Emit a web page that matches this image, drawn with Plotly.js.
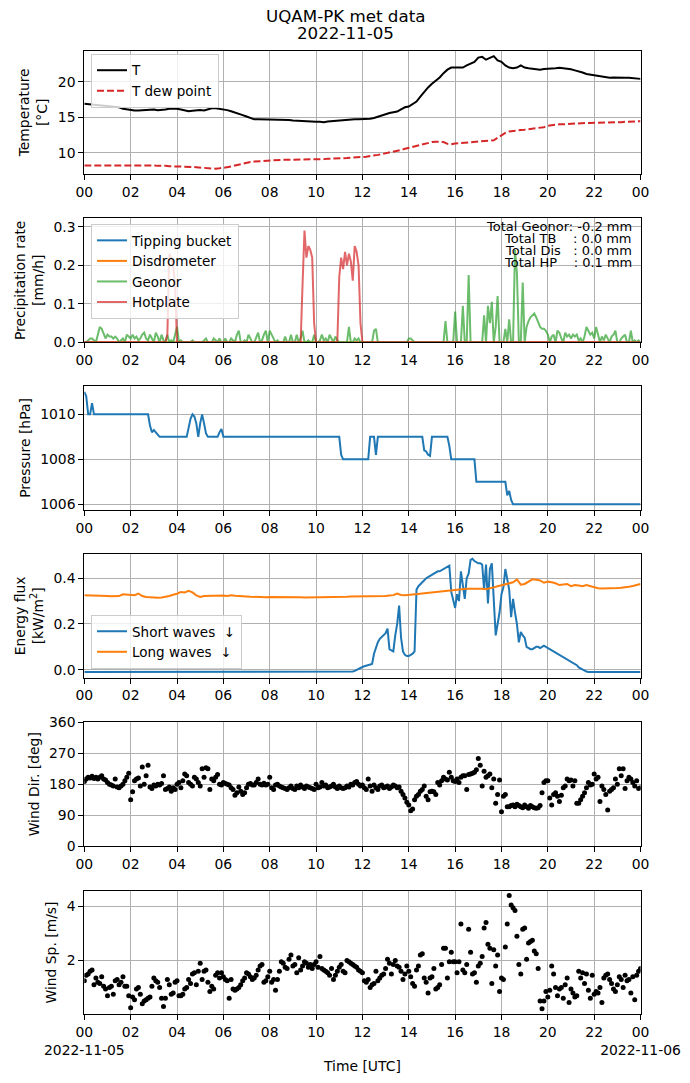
<!DOCTYPE html>
<html>
<head>
<meta charset="utf-8">
<script src="https://cdn.plot.ly/plotly-3.0.1.min.js"></script>
<style>
  body { margin: 0; background: #ffffff; }
  #chart { width: 690px; height: 1083px; }
</style>
</head>
<body>
<div id="chart"></div>
<script>
// UQAM-PK met data, 2022-11-05 -- six stacked panels

// sampling clocks (hours UTC from 2022-11-05 00:00)
const hours5 = Array.from({ length: 289 }, (_, i) => i / 12);   // 5-min records
const hours10 = Array.from({ length: 145 }, (_, i) => i / 6);   // 10-min records

const tickHours = [0, 2, 4, 6, 8, 10, 12, 14, 16, 18, 20, 22, 24];
const tickLabels = ['00', '02', '04', '06', '08', '10', '12', '14', '16', '18', '20', '22', '00'];
const bottomTickLabels = ['00<br>2022-11-05', '02', '04', '06', '08', '10', '12', '14', '16', '18', '20', '22', '00<br>2022-11-06'];
const titleLines = ['UQAM-PK met data', '2022-11-05'];

// Temperature [°C], 10-min
const airTemp = [
    16.9, 16.85, 16.8, 16.7, 16.6, 16.6,
    16.6, 16.55, 16.5, 16.4, 16.2, 16.1,
    16.0, 15.95, 15.95, 16.0, 16.1, 16.05,
    16.1, 16.0, 16.0, 16.1, 16.2, 16.25,
    16.2, 16.1, 16.0, 15.85, 15.9, 16.0,
    16.0, 15.95, 16.1, 16.25, 16.25, 16.2,
    16.1, 16.0, 15.85, 15.7, 15.5, 15.3,
    15.1, 14.9, 14.7, 14.7, 14.7, 14.65,
    14.6, 14.6, 14.6, 14.65, 14.6, 14.6,
    14.55, 14.5, 14.5, 14.45, 14.4, 14.4,
    14.35, 14.35, 14.3, 14.4, 14.45, 14.5,
    14.6, 14.65, 14.65, 14.7, 14.7, 14.7,
    14.7, 14.75, 14.8, 14.9, 15.1, 15.3,
    15.45, 15.6, 15.7, 15.8, 16.1, 16.4,
    16.5, 16.8, 17.2, 17.9, 18.6, 19.2,
    19.7, 20.1, 20.6, 21.2, 21.7, 22.0,
    22.0, 22.1, 22.0, 22.3, 22.6, 22.8,
    23.4, 23.5, 23.1, 23.3, 23.6, 23.0,
    22.8, 22.3, 22.0, 21.9, 22.0, 22.3,
    22.0, 21.9, 21.85, 21.7, 21.7, 21.8,
    21.8, 21.85, 21.9, 21.95, 21.9, 21.8,
    21.75, 21.6, 21.5, 21.3, 21.1, 21.0,
    20.9, 20.8, 20.7, 20.6, 20.55, 20.6,
    20.55, 20.6, 20.55, 20.55, 20.5, 20.45,
    20.4
];
const dewPoint = [
    8.2, 8.2, 8.2, 8.25, 8.25, 8.25,
    8.3, 8.3, 8.25, 8.25, 8.25, 8.2,
    8.2, 8.2, 8.2, 8.2, 8.2, 8.2,
    8.2, 8.15, 8.2, 8.15, 8.1, 8.1,
    8.1, 8.05, 8.05, 8.05, 8.0, 7.95,
    7.9, 7.85, 7.8, 7.75, 7.75, 7.8,
    7.85, 7.95, 8.05, 8.2, 8.35, 8.5,
    8.6, 8.7, 8.75, 8.8, 8.85, 8.9,
    8.9, 8.95, 8.95, 9.0, 9.0, 9.0,
    9.05, 9.05, 9.05, 9.1, 9.1, 9.1,
    9.1, 9.1, 9.1, 9.15, 9.15, 9.15,
    9.2, 9.2, 9.25, 9.3, 9.3, 9.35,
    9.4, 9.45, 9.5, 9.6, 9.7, 9.8,
    9.9, 10.0, 10.1, 10.25, 10.4, 10.55,
    10.7, 10.85, 11.0, 11.15, 11.3, 11.4,
    11.5, 11.55, 11.55, 11.5, 11.25, 11.2,
    11.3, 11.35, 11.45, 11.5, 11.55, 11.6,
    11.6, 11.6, 11.65, 11.7, 11.75, 12.1,
    12.5, 12.8, 13.0, 13.1, 13.15, 13.2,
    13.25, 13.3, 13.35, 13.4, 13.5, 13.6,
    13.8, 13.9, 13.95, 14.0, 14.0, 14.05,
    14.1, 14.1, 14.15, 14.15, 14.2, 14.2,
    14.2, 14.2, 14.2, 14.25, 14.25, 14.25,
    14.3, 14.3, 14.35, 14.4, 14.4, 14.45,
    14.45
];

// Precipitation rate [mm/h]
const bucketHours = [0, 24];
const bucketRate = [0, 0];        // tipping bucket: nothing recorded
const disdroHours = [0, 24];
const disdroRate = [0, 0];        // disdrometer: nothing recorded
const geonorRate = [   // 5-min
    0, 0, 0.005, 0.01, 0.01, 0.005, 0, 0.02, 0.04, 0.035, 0.02, 0.01,
    0.02, 0.015, 0.015, 0.01, 0.015, 0.01, 0, 0.005, 0.01, 0, 0.02, 0.015,
    0.01, 0.02, 0.01, 0.015, 0.005, 0.01, 0.02, 0.025, 0.01, 0.005, 0.02, 0.01,
    0, 0.025, 0.015, 0, 0.02, 0.005, 0, 0.02, 0, 0.005, 0, 0.02,
    0.04, 0, 0.005, 0, 0, 0, 0, 0, 0.005, 0, 0, 0,
    0, 0, 0.005, 0.01, 0, 0, 0, 0.01, 0.005, 0, 0.01, 0,
    0, 0.01, 0, 0, 0.01, 0.005, 0, 0.02, 0.03, 0, 0, 0.005,
    0, 0.02, 0.01, 0, 0, 0.015, 0.025, 0, 0.005, 0.02, 0.03, 0,
    0.03, 0.02, 0.01, 0, 0.005, 0, 0, 0, 0.015, 0, 0, 0.02,
    0, 0, 0.02, 0, 0.01, 0.03, 0, 0, 0.005, 0, 0, 0.02,
    0, 0, 0.005, 0.02, 0.005, 0.01, 0, 0.02, 0.01, 0, 0.015, 0.005,
    0, 0, 0, 0, 0, 0.04, 0, 0, 0.01, 0.005, 0.01, 0,
    0, 0, 0, 0, 0, 0, 0.03, 0.035, 0, 0, 0, 0,
    0, 0, 0, 0, 0, 0, 0, 0, 0, 0, 0, 0,
    0.01, 0.01, 0.005, 0, 0, 0, 0, 0, 0, 0, 0, 0,
    0, 0, 0, 0, 0, 0, 0, 0.055, 0, 0, 0, 0,
    0.08, 0, 0, 0, 0.095, 0, 0, 0.175, 0, 0, 0, 0,
    0, 0, 0, 0.07, 0, 0.095, 0.05, 0.105, 0, 0.04, 0.12, 0,
    0, 0, 0.035, 0, 0.06, 0, 0, 0.24, 0.18, 0, 0, 0.155,
    0, 0.04, 0.055, 0.065, 0.07, 0.075, 0.065, 0.05, 0.04, 0.035, 0.035, 0.03,
    0.02, 0, 0.015, 0.02, 0, 0.03, 0.025, 0.01, 0, 0.025, 0.015, 0.02,
    0.01, 0.02, 0.015, 0.02, 0.005, 0.01, 0, 0.015, 0.04, 0.03, 0.02, 0.025,
    0.01, 0.04, 0.02, 0, 0.015, 0.005, 0.02, 0.01, 0, 0.015, 0.02, 0.03,
    0, 0, 0.01, 0.015, 0.02, 0, 0, 0.03, 0, 0.005, 0, 0.005,
    0
];
const hotplateRate = [   // 5-min
    0, 0, 0, 0, 0, 0, 0, 0, 0, 0, 0, 0,
    0, 0, 0, 0, 0, 0, 0, 0, 0, 0, 0, 0,
    0, 0, 0, 0, 0, 0, 0, 0, 0, 0, 0, 0,
    0, 0, 0, 0, 0, 0, 0, 0.02, 0.23, 0.22, 0.2, 0.15,
    0, 0, 0, 0, 0, 0, 0, 0, 0, 0, 0, 0,
    0, 0, 0, 0, 0, 0, 0, 0, 0, 0, 0, 0,
    0, 0, 0, 0, 0, 0, 0, 0, 0, 0, 0, 0,
    0, 0, 0, 0, 0, 0, 0, 0, 0, 0, 0, 0,
    0, 0, 0, 0, 0, 0, 0, 0, 0, 0, 0, 0,
    0, 0, 0, 0, 0, 0.15, 0.29, 0.22, 0.25, 0.24, 0.22, 0.05,
    0, 0, 0, 0, 0, 0, 0, 0, 0, 0, 0, 0,
    0.17, 0.22, 0.19, 0.235, 0.2, 0.23, 0.21, 0.16, 0.25, 0.235, 0.2, 0.05,
    0, 0, 0, 0, 0, 0, 0, 0, 0, 0, 0, 0,
    0, 0, 0, 0, 0, 0, 0, 0, 0, 0, 0, 0,
    0, 0, 0, 0, 0, 0, 0, 0, 0, 0, 0, 0,
    0, 0, 0, 0, 0, 0, 0, 0, 0, 0, 0, 0,
    0, 0, 0, 0, 0, 0, 0, 0, 0, 0, 0, 0,
    0, 0, 0, 0, 0, 0, 0, 0, 0, 0, 0, 0,
    0, 0, 0, 0, 0, 0, 0, 0, 0, 0, 0, 0,
    0, 0, 0, 0, 0, 0, 0, 0, 0, 0, 0, 0,
    0, 0, 0, 0, 0, 0, 0, 0, 0, 0, 0, 0,
    0, 0, 0, 0, 0, 0, 0, 0, 0, 0, 0, 0,
    0, 0, 0, 0, 0, 0, 0, 0, 0, 0, 0, 0,
    0, 0, 0, 0, 0, 0, 0, 0, 0, 0, 0, 0,
    0
];
const totalsText = [
    'Total Geonor: -0.2 mm',
    'Total TB\u00a0\u00a0\u00a0\u00a0: 0.0 mm',
    'Total Dis\u00a0\u00a0\u00a0: 0.0 mm',
    'Total HP\u00a0\u00a0\u00a0\u00a0: 0.1 mm'
];

// Pressure [hPa], 5-min
const pressure = [
    1011.0, 1010.8, 1010.0, 1010.0, 1010.5, 1010.0, 1010, 1010, 1010, 1010, 1010, 1010,
    1010, 1010, 1010, 1010, 1010, 1010, 1010, 1010, 1010, 1010, 1010, 1010,
    1010, 1010, 1010, 1010, 1010, 1010, 1010, 1010, 1010, 1010.0, 1009.5, 1009.2,
    1009.3, 1009.2, 1009.15, 1009, 1009, 1009, 1009, 1009, 1009, 1009, 1009, 1009,
    1009, 1009, 1009, 1009, 1009, 1009.0, 1009.4, 1009.8, 1010.0, 1009.9, 1009.6, 1009.0,
    1009.6, 1010.0, 1009.6, 1009.15, 1009, 1009, 1009, 1009, 1009, 1009, 1009.2, 1009.35,
    1009, 1009, 1009, 1009, 1009, 1009, 1009, 1009, 1009, 1009, 1009, 1009,
    1009, 1009, 1009, 1009, 1009, 1009, 1009, 1009, 1009, 1009, 1009, 1009,
    1009, 1009, 1009, 1009, 1009, 1009, 1009, 1009, 1009, 1009, 1009, 1009,
    1009, 1009, 1009, 1009, 1009, 1009, 1009, 1009, 1009, 1009, 1009, 1009,
    1009, 1009, 1009, 1009, 1009, 1009, 1009, 1009, 1009, 1009, 1009, 1009,
    1009, 1008.2, 1008, 1008, 1008, 1008, 1008, 1008, 1008, 1008, 1008, 1008,
    1008, 1008, 1008, 1008, 1009, 1009, 1009, 1008.2, 1009, 1009, 1009, 1009,
    1009, 1009, 1009, 1009, 1009, 1009, 1009, 1009, 1009, 1009, 1009, 1009,
    1009, 1009, 1009, 1009, 1009, 1009, 1009, 1009, 1008.4, 1008.35, 1008.2, 1008.15,
    1009, 1009, 1009, 1009, 1009, 1009, 1009, 1009, 1009, 1008.6, 1008, 1008,
    1008, 1008, 1008, 1008, 1008, 1008, 1008, 1008, 1008, 1008, 1008, 1007,
    1007, 1007, 1007, 1007, 1007, 1007, 1007, 1007, 1007, 1007, 1007, 1007,
    1007, 1007, 1007, 1006.4, 1006.6, 1006.2, 1006, 1006, 1006, 1006, 1006, 1006,
    1006, 1006, 1006, 1006, 1006, 1006, 1006, 1006, 1006, 1006, 1006, 1006,
    1006, 1006, 1006, 1006, 1006, 1006, 1006, 1006, 1006, 1006, 1006, 1006,
    1006, 1006, 1006, 1006, 1006, 1006, 1006, 1006, 1006, 1006, 1006, 1006,
    1006, 1006, 1006, 1006, 1006, 1006, 1006, 1006, 1006, 1006, 1006, 1006,
    1006, 1006, 1006, 1006, 1006, 1006, 1006, 1006, 1006, 1006, 1006, 1006,
    1006
];

// Energy flux [kW/m2]
const shortWave = [   // 5-min
    -0.01, -0.01, -0.01, -0.01, -0.01, -0.01, -0.01, -0.01, -0.01, -0.01, -0.01, -0.01,
    -0.01, -0.01, -0.01, -0.01, -0.01, -0.01, -0.01, -0.01, -0.01, -0.01, -0.01, -0.01,
    -0.01, -0.01, -0.01, -0.01, -0.01, -0.01, -0.01, -0.01, -0.01, -0.01, -0.01, -0.01,
    -0.01, -0.01, -0.01, -0.01, -0.01, -0.01, -0.01, -0.01, -0.01, -0.01, -0.01, -0.01,
    -0.01, -0.01, -0.01, -0.01, -0.01, -0.01, -0.01, -0.01, -0.01, -0.01, -0.01, -0.01,
    -0.01, -0.01, -0.01, -0.01, -0.01, -0.01, -0.01, -0.01, -0.01, -0.01, -0.01, -0.01,
    -0.01, -0.01, -0.01, -0.01, -0.01, -0.01, -0.01, -0.01, -0.01, -0.01, -0.01, -0.01,
    -0.01, -0.01, -0.01, -0.01, -0.01, -0.01, -0.01, -0.01, -0.01, -0.01, -0.01, -0.01,
    -0.01, -0.01, -0.01, -0.01, -0.01, -0.01, -0.01, -0.01, -0.01, -0.01, -0.01, -0.01,
    -0.01, -0.01, -0.01, -0.01, -0.01, -0.01, -0.01, -0.01, -0.01, -0.01, -0.01, -0.01,
    -0.01, -0.01, -0.01, -0.01, -0.01, -0.01, -0.01, -0.01, -0.01, -0.01, -0.01, -0.01,
    -0.01, -0.01, -0.01, -0.01, -0.01, -0.01, -0.01, -0.008, -0.005, 0.0, 0.005, 0.01,
    0.012, 0.015, 0.018, 0.02, 0.022, 0.025, 0.07, 0.1, 0.12, 0.135, 0.145, 0.15,
    0.16, 0.18, 0.09, 0.085, 0.08, 0.15, 0.2, 0.28, 0.14, 0.08, 0.065, 0.06,
    0.06, 0.065, 0.07, 0.08, 0.35, 0.365, 0.375, 0.385, 0.395, 0.4, 0.405, 0.41,
    0.415, 0.42, 0.425, 0.43, 0.43, 0.435, 0.44, 0.445, 0.45, 0.455, 0.34, 0.3,
    0.27, 0.33, 0.3, 0.43, 0.36, 0.31, 0.4, 0.42, 0.48, 0.485, 0.475, 0.47,
    0.465, 0.465, 0.46, 0.35, 0.46, 0.29, 0.44, 0.465, 0.3, 0.15, 0.2, 0.25,
    0.33, 0.36, 0.44, 0.4, 0.35, 0.23, 0.31, 0.25, 0.2, 0.12, 0.165, 0.15,
    0.14, 0.1, 0.095, 0.09, 0.09, 0.095, 0.1, 0.1, 0.095, 0.1, 0.105, 0.1,
    0.095, 0.09, 0.085, 0.08, 0.075, 0.07, 0.065, 0.06, 0.055, 0.05, 0.045, 0.04,
    0.035, 0.03, 0.025, 0.02, 0.01, 0.005, 0.0, -0.005, -0.008, -0.01, -0.01, -0.01,
    -0.01, -0.01, -0.01, -0.01, -0.01, -0.01, -0.01, -0.01, -0.01, -0.01, -0.01, -0.01,
    -0.01, -0.01, -0.01, -0.01, -0.01, -0.01, -0.01, -0.01, -0.01, -0.01, -0.01, -0.01,
    -0.01
];
const longWave = [   // 10-min
    0.325, 0.325, 0.324, 0.323, 0.323, 0.322,
    0.322, 0.321, 0.32, 0.322, 0.33, 0.328,
    0.325, 0.326, 0.333, 0.322, 0.318, 0.316,
    0.315, 0.315, 0.316, 0.318, 0.322, 0.328,
    0.332, 0.34, 0.338, 0.345, 0.338, 0.325,
    0.318, 0.322, 0.323, 0.322, 0.324, 0.323,
    0.324, 0.322, 0.325, 0.323, 0.321, 0.32,
    0.32, 0.319, 0.318, 0.318, 0.317, 0.317,
    0.318, 0.318, 0.319, 0.32, 0.319, 0.318,
    0.318, 0.317, 0.317, 0.316, 0.316, 0.316,
    0.316, 0.317, 0.317, 0.318, 0.318, 0.318,
    0.318, 0.319, 0.319, 0.32, 0.32, 0.32,
    0.32, 0.32, 0.32, 0.321, 0.32, 0.321,
    0.322, 0.324, 0.326, 0.333, 0.327, 0.325,
    0.326, 0.328, 0.33, 0.332, 0.334, 0.336,
    0.338, 0.34, 0.342, 0.344, 0.346, 0.348,
    0.35, 0.352, 0.353, 0.354, 0.354, 0.355,
    0.355, 0.354, 0.352, 0.355, 0.36, 0.365,
    0.37, 0.373, 0.378, 0.382, 0.395, 0.372,
    0.375, 0.385, 0.395, 0.393, 0.39, 0.38,
    0.385, 0.382, 0.378, 0.37, 0.373, 0.375,
    0.365, 0.37, 0.368, 0.365, 0.37, 0.365,
    0.36, 0.356, 0.355, 0.355, 0.354, 0.356,
    0.357, 0.358, 0.362, 0.363, 0.366, 0.37,
    0.375
];

// Wind direction [deg], 5-min
const windDir = [
    188, 195, 200, 198, 203, 197, 200, 195, 200, 205, 195, 192,
    185, 180, 178, 175, 195, 172, 170, 175, 180, 190, 200, 212,
    135, 158, 190, 195, 198, 175, 230, 180, 205, 235, 172, 168,
    178, 175, 180, 178, 182, 205, 165, 168, 172, 160, 170, 165,
    180, 185, 170, 190, 210, 205, 185, 180, 175, 200, 195, 185,
    175, 225, 200, 228, 225, 165, 195, 190, 200, 208, 180, 178,
    185, 182, 180, 178, 170, 165, 148, 155, 172, 160, 150, 155,
    170, 180, 182, 178, 178, 185, 195, 180, 178, 183, 178, 180,
    200, 170, 165, 178, 180, 175, 172, 170, 168, 165, 170, 175,
    168, 165, 175, 170, 178, 172, 168, 175, 172, 170, 168, 165,
    180, 170, 172, 185, 175, 178, 170, 172, 175, 180, 172, 168,
    175, 170, 168, 170, 175, 172, 180, 178, 185, 188, 180, 175,
    178, 170, 165, 195, 175, 160, 178, 170, 165, 175, 178, 170,
    172, 175, 168, 172, 178, 175, 170, 172, 160, 150, 140, 128,
    120, 103, 108, 135, 145, 150, 160, 165, 175, 145, 135, 158,
    160, 158, 150, 185, 178, 190, 200, 195, 192, 215, 200, 190,
    188, 195, 185, 200, 205, 205, 165, 208, 210, 212, 215, 222,
    255, 235, 175, 218, 200, 205, 210, 170, 195, 125, 150, 192,
    100, 145, 150, 115, 115, 118, 120, 115, 122, 118, 115, 112,
    120, 115, 110, 118, 115, 112, 110, 112, 118, 155, 185, 190,
    190, 140, 120, 150, 155, 145, 130, 148, 170, 175, 195, 190,
    192, 175, 190, 125, 125, 135, 145, 155, 170, 185, 178, 180,
    210, 195, 200, 130, 175, 165, 150, 105, 160, 165, 170, 195,
    180, 225, 205, 225, 168, 190, 200, 195, 185, 175, 190, 168,
    170
];

// Wind speed [m/s], 5-min
const windSpeed = [
    1.25, 1.45, 1.5, 1.6, 1.65, 1.1, 1.35, 1.2, 1.15, 1.4, 1.05, 0.95,
    0.7, 1.0, 1.05, 0.75, 1.25, 1.3, 1.1, 1.2, 1.4, 1.05, 1.05, 0.7,
    0.25, 0.65, 0.55, 0.95, 1.0, 0.75, 0.4, 0.5, 0.55, 0.6, 0.65, 1.05,
    1.35, 1.25, 1.2, 1.0, 0.6, 0.3, 0.6, 1.3, 1.1, 0.75, 0.8, 1.2,
    1.25, 0.7, 0.7, 0.75, 0.95, 1.0, 1.3, 1.15, 1.5, 1.55, 1.1, 1.6,
    1.9, 1.3, 1.6, 1.65, 1.2, 0.85, 1.05, 0.95, 1.45, 1.55, 1.35, 1.55,
    1.4, 1.3, 1.25, 0.6, 1.3, 0.95, 0.9, 0.95, 1.0, 1.1, 1.25, 1.35,
    1.55, 1.5, 1.4, 1.3, 1.35, 1.45, 1.65, 1.8, 1.85, 1.2, 1.25, 1.4,
    1.6, 1.2, 1.3, 0.9, 1.3, 1.6, 1.95, 1.9, 1.75, 1.7, 2.05, 2.2,
    1.8, 1.85, 1.55, 2.1, 1.65, 1.8, 1.95, 1.9, 1.75, 1.85, 1.7, 1.85,
    1.95, 1.75, 2.15, 1.7, 1.65, 1.6, 1.55, 1.45, 1.7, 1.3, 1.45, 1.6,
    1.75, 1.85, 1.6, 1.55, 2.0, 1.95, 1.9, 1.85, 1.8, 1.75, 1.65, 1.6,
    1.55, 1.25, 1.2, 1.3, 1.0, 1.1, 1.15, 1.6, 1.25, 1.35, 1.45, 1.5,
    1.7, 2.05, 1.9, 1.5, 1.85, 2.0, 1.8, 1.75, 1.6, 1.3, 1.5, 1.8,
    1.6, 1.4, 1.15, 1.05, 1.65, 1.8, 2.2, 2.25, 1.35, 1.2, 0.8, 1.35,
    1.4, 1.7, 0.95, 1.0, 1.1, 1.85, 2.45, 2.45, 1.35, 1.95, 2.3, 1.95,
    1.95, 1.55, 1.95, 3.35, 1.65, 1.55, 1.85, 3.15, 2.3, 1.5, 1.55, 1.2,
    1.8, 1.9, 2.15, 3.2, 3.4, 2.6, 2.45, 1.15, 2.4, 1.8, 2.2, 0.85,
    1.35, 1.3, 2.5, 3.35, 4.4, 4.05, 3.95, 3.85, 2.9, 1.85, 1.5, 3.15,
    3.2, 2.05, 2.65, 2.7, 2.75, 2.35, 2.25, 1.7, 0.5, 0.22, 0.5, 0.85,
    0.65, 0.9, 1.8, 1.5, 1.0, 0.7, 0.95, 1.0, 0.6, 1.1, 1.35, 0.45,
    0.95, 0.8, 0.65, 0.7, 1.6, 1.35, 1.55, 1.15, 1.5, 0.9, 0.6, 1.45,
    0.75, 0.85, 0.8, 1.0, 0.45, 1.35, 1.45, 1.5, 1.3, 1.15, 0.95, 0.85,
    1.1, 1.4, 1.3, 1.0, 1.45, 1.25, 1.3, 0.8, 1.4, 0.55, 1.45, 1.6,
    1.7
];

// ---- traces ----
const FONT = 'DejaVu Sans, Liberation Sans, sans-serif';
const LW = 2;

const data = [
    { x: hours10, y: airTemp, xaxis: 'x', yaxis: 'y', mode: 'lines', name: 'T',
      line: { color: '#000000', width: LW }, legend: 'legend' },
    { x: hours10, y: dewPoint, xaxis: 'x', yaxis: 'y', mode: 'lines', name: 'T dew point',
      line: { color: '#d62728', width: LW, dash: '7px,3px' }, legend: 'legend' },

    { x: bucketHours, y: bucketRate, xaxis: 'x2', yaxis: 'y2', mode: 'lines', name: 'Tipping bucket',
      line: { color: '#1f77b4', width: LW }, legend: 'legend2' },
    { x: disdroHours, y: disdroRate, xaxis: 'x2', yaxis: 'y2', mode: 'lines', name: 'Disdrometer',
      line: { color: '#ff7f0e', width: LW }, legend: 'legend2' },
    { x: hours5, y: geonorRate, xaxis: 'x2', yaxis: 'y2', mode: 'lines', name: 'Geonor',
      line: { color: 'rgba(44,160,44,0.7)', width: LW }, legend: 'legend2' },
    { x: hours5, y: hotplateRate, xaxis: 'x2', yaxis: 'y2', mode: 'lines', name: 'Hotplate',
      line: { color: 'rgba(214,39,40,0.7)', width: LW }, legend: 'legend2' },

    { x: hours5, y: pressure, xaxis: 'x3', yaxis: 'y3', mode: 'lines', name: 'Pressure',
      line: { color: '#1f77b4', width: LW }, showlegend: false },

    { x: hours5, y: shortWave, xaxis: 'x4', yaxis: 'y4', mode: 'lines', name: 'Short waves \u00a0\u2193',
      line: { color: '#1f77b4', width: LW }, legend: 'legend3' },
    { x: hours10, y: longWave, xaxis: 'x4', yaxis: 'y4', mode: 'lines', name: 'Long waves \u00a0\u2193',
      line: { color: '#ff7f0e', width: LW }, legend: 'legend3' },

    { x: hours5, y: windDir, xaxis: 'x5', yaxis: 'y5', mode: 'markers', name: 'Wind Dir.',
      marker: { color: '#000000', size: 5 }, showlegend: false },
    { x: hours5, y: windSpeed, xaxis: 'x6', yaxis: 'y6', mode: 'markers', name: 'Wind Sp.',
      marker: { color: '#000000', size: 5 }, showlegend: false }
];

// ---- layout ----
const xDomain = [0.1222, 0.9283];
const yDomains = [
    [0.8393, 0.9532],
    [0.6839, 0.7984],
    [0.5291, 0.6436],
    [0.3742, 0.4885],
    [0.2186, 0.3331],
    [0.0634, 0.1776]
];

function xAxis(i, bottom) {
    return {
        domain: xDomain,
        anchor: i === 1 ? 'y' : 'y' + i,
        range: [0, 24],
        tickmode: 'array',
        tickvals: tickHours,
        ticktext: bottom ? bottomTickLabels : tickLabels,
        tickangle: 0,
        ticks: 'outside', ticklen: 5, tickwidth: 1, tickcolor: '#000',
        tickfont: { family: FONT, size: 13.9, color: '#000' },
        showgrid: true, gridcolor: '#b0b0b0', gridwidth: 1,
        zeroline: false,
        showline: true, mirror: true, linecolor: '#000', linewidth: 1,
        fixedrange: true
    };
}

function yAxis(i, range, title, extra) {
    return Object.assign({
        domain: yDomains[i - 1],
        anchor: i === 1 ? 'x' : 'x' + i,
        range: range,
        ticks: 'outside', ticklen: 5, tickwidth: 1, tickcolor: '#000',
        tickfont: { family: FONT, size: 13.9, color: '#000' },
        showgrid: true, gridcolor: '#b0b0b0', gridwidth: 1,
        zeroline: false,
        showline: true, mirror: true, linecolor: '#000', linewidth: 1,
        title: { text: title, font: { family: FONT, size: 13.9, color: '#000' }, standoff: 6 },
        fixedrange: true
    }, extra || {});
}

const legendBase = {
    bgcolor: 'rgba(255,255,255,0.8)',
    bordercolor: '#cccccc',
    borderwidth: 1,
    font: { family: FONT, size: 13.5, color: '#000' },
    xanchor: 'left',
    itemwidth: 30,
    tracegroupgap: 0
};

const textFont = { family: FONT, size: 13, color: '#000' };

const layout = {
    width: 690,
    height: 1083,
    margin: { l: 0, r: 0, t: 0, b: 0 },
    paper_bgcolor: '#ffffff',
    plot_bgcolor: '#ffffff',
    font: { family: FONT, size: 13.9, color: '#000' },
    hovermode: false,
    xaxis: xAxis(1),
    xaxis2: xAxis(2),
    xaxis3: xAxis(3),
    xaxis4: xAxis(4),
    xaxis5: xAxis(5),
    xaxis6: Object.assign(xAxis(6, true), {
        title: { text: 'Time [UTC]', font: { family: FONT, size: 13.9, color: '#000' }, standoff: 4 }
    }),
    yaxis: yAxis(1, [7.0, 24.37], 'Temperature<br>[\u00b0C]', { tickvals: [10, 15, 20] }),
    yaxis2: yAxis(2, [0, 0.322], 'Precipitation rate<br>[mm/h]', { tickvals: [0, 0.1, 0.2, 0.3], tickformat: '.1f' }),
    yaxis3: yAxis(3, [1005.75, 1011.26], 'Pressure [hPa]', { tickvals: [1006, 1008, 1010] }),
    yaxis4: yAxis(4, [-0.035, 0.506], 'Energy flux<br>[kW/m<sup>2</sup>]', { tickvals: [0, 0.2, 0.4], tickformat: '.1f' }),
    yaxis5: yAxis(5, [0, 360], 'Wind Dir. [deg]', { tickvals: [0, 90, 180, 270, 360] }),
    yaxis6: yAxis(6, [0.01, 4.58], 'Wind Sp. [m/s]', { tickvals: [2, 4] }),
    legend: Object.assign({}, legendBase, { x: 0.1319, y: 0.9502, yanchor: 'top' }),
    legend2: Object.assign({}, legendBase, { x: 0.1319, y: 0.7931, yanchor: 'top' }),
    legend3: Object.assign({}, legendBase, { x: 0.1319, y: 0.3823, yanchor: 'bottom' }),
    annotations: [
        // figure title, two lines
        ...titleLines.map((t, k) => ({
            text: t, xref: 'paper', yref: 'paper',
            x: 0.5, xanchor: 'center',
            y: [0.9852, 0.9695][k], yanchor: 'middle',
            showarrow: false,
            font: { family: FONT, size: 16.7, color: '#000' }
        })),
        // precipitation totals, upper right of panel 2
        ...totalsText.map((t, k) => ({
            text: t, xref: 'paper', yref: 'paper',
            x: 0.9178, xanchor: 'right',
            y: [0.7913, 0.7800, 0.7687, 0.7574][k], yanchor: 'middle',
            showarrow: false, borderpad: 0,
            font: textFont
        }))
    ]
};

Plotly.newPlot('chart', data, layout, { displayModeBar: false, staticPlot: true });
</script>
</body>
</html>
